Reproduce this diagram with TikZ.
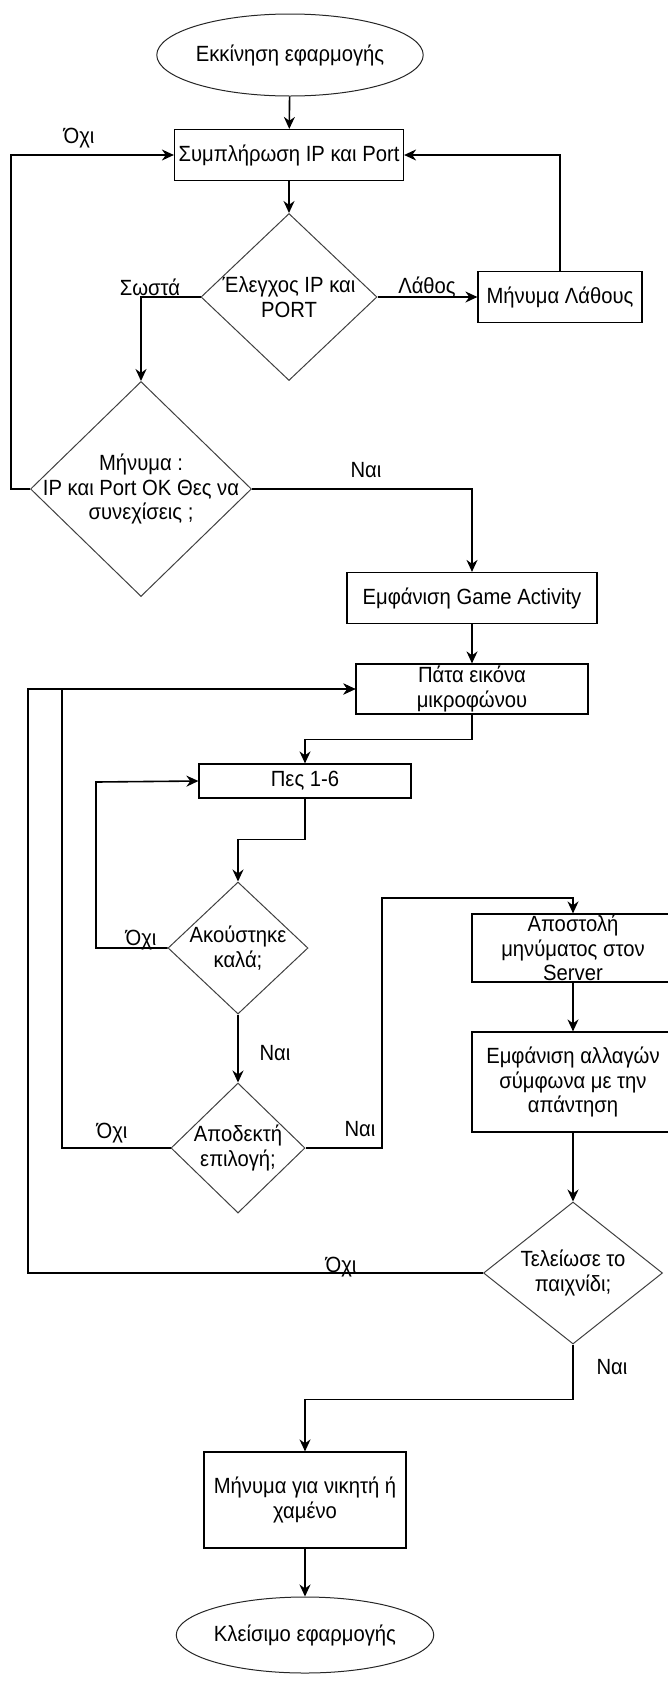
\documentclass[tikz,border=0pt]{standalone}
\usepackage{fontspec}
\setmainfont{Liberation Sans}[FakeStretch=0.92]
\usetikzlibrary{shapes.geometric,arrows.meta}

\begin{document}
\begin{tikzpicture}[x=1pt,y=-1pt,
    every node/.style={font=\fontsize{22}{24.5}\selectfont},
    box/.style={rectangle, draw, line width=1.2pt, inner sep=0pt, align=center},
    term/.style={ellipse, draw=black!85, line width=1pt, inner sep=0pt},
    dia/.style={diamond, draw=black!75, line width=1pt, inner sep=0pt},
    dtext/.style={align=center, inner sep=0pt},
    lbl/.style={inner sep=0pt},
    arr/.style={line width=1.6pt, -{Stealth[length=12pt,width=11pt]}},
    ln/.style={line width=1.6pt}
  ]
  \useasboundingbox (0,0) rectangle (667,1695);

  \node[term, minimum width=252, minimum height=82] (start) at (290,55) {Εκκίνηση εφαρμογής};
  \node[box, minimum width=229, minimum height=51] (fill) at (289,155) {Συμπλήρωση IP και Port};
  \node[dia, minimum width=176, minimum height=167,
        label={[dtext]center:{Έλεγχος IP και\\PORT}}] (check) at (289,297) {};
  \node[box, minimum width=164, minimum height=51] (err) at (560,297) {Μήνυμα Λάθους};
  \node[dia, minimum width=221, minimum height=215,
        label={[dtext]center:{Μήνυμα :\\IP και Port OK Θες να\\συνεχίσεις ;}}] (ok) at (141,489) {};
  \node[box, minimum width=250, minimum height=51] (game) at (472,598) {Εμφάνιση Game Activity};
  \node[box, minimum width=232, minimum height=50] (mic) at (472,689) {Πάτα εικόνα\\μικροφώνου};
  \node[box, minimum width=212, minimum height=34] (say) at (305,781) {Πες 1-6};
  \node[dia, minimum width=140, minimum height=132,
        label={[dtext]center:{Ακούστηκε\\καλά;}}] (heard) at (238,948) {};
  \node[dia, minimum width=134, minimum height=130,
        label={[dtext]center:{Αποδεκτή\\επιλογή;}}] (valid) at (238,1148) {};
  \node[box, minimum width=202, minimum height=68] (send) at (573,948) {Αποστολή\\μηνύματος στον\\Server};
  \node[box, minimum width=202, minimum height=100] (show) at (573,1082) {Εμφάνιση αλλαγών\\σύμφωνα με την\\απάντηση};
  \node[dia, minimum width=179, minimum height=142,
        label={[dtext]center:{Τελείωσε το\\παιχνίδι;}}] (over) at (573,1273) {};
  \node[box, minimum width=202, minimum height=96] (win) at (305,1500) {Μήνυμα για νικητή ή\\χαμένο};
  \node[term, minimum width=253, minimum height=76] (stop) at (305,1635) {Κλείσιμο εφαρμογής};

  \coordinate (c1) at (11,155);
  \coordinate (c2) at (96,782);
  \coordinate (c3) at (62,689);
  \coordinate (c4) at (28,689);
  \coordinate (c5) at (382,898);

  \draw[arr] (start) -- (fill);
  \draw[arr] (fill) -- (check);
  \draw[arr] (check.east) -- (err.west);
  \draw[arr] (err.north) |- (fill.east);
  \draw[arr] (check.west) -| (ok.north);
  \draw[arr] (ok.west) -| (c1) -- (fill.west);
  \draw[arr] (ok.east) -| (game.north);
  \draw[arr] (game) -- (mic);
  \draw[arr] (mic.south) -- ++(0,25) -| (say.north);
  \draw[arr] (say.south) -- ++(0,41) -| (heard.north);
  \draw[arr] (heard.west) -| (c2) -- (say.west);
  \draw[arr] (heard.south) -- (valid.north);
  \draw[arr] (valid.west) -| (c3) -- (mic.west);
  \draw[arr] (valid.east) -| (c5) -| (send.north);
  \draw[arr] (send) -- (show);
  \draw[arr] (show.south) -- (over.north);
  \draw[arr] (over.west) -| (c4) -- (mic.west);
  \draw[arr] (over.south) -- ++(0,55) -| (win.north);
  \draw[arr] (win) -- (stop);

  \node[lbl] (l1) at (79,138) {Όχι};
  \node[lbl] (l2) at (150,287) {Σωστά};
  \node[lbl] (l3) at (427,287) {Λάθος};
  \node[lbl] (l4) at (366,470) {Ναι};
  \node[lbl] (l5) at (141,940) {Όχι};
  \node[lbl] (l6) at (275,1053) {Ναι};
  \node[lbl] (l7) at (112,1133) {Όχι};
  \node[lbl] (l8) at (360,1129) {Ναι};
  \node[lbl] (l9) at (341,1267) {Όχι};
  \node[lbl] (l10) at (612,1367) {Ναι};
\end{tikzpicture}
\end{document}
